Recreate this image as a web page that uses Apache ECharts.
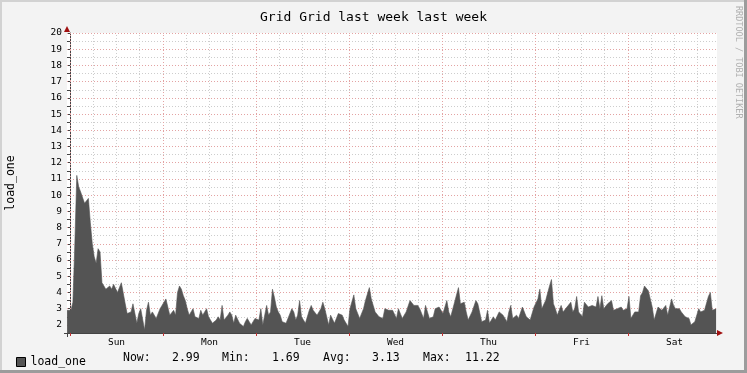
<!DOCTYPE html>
<html><head><meta charset="utf-8">
<script src="https://cdn.jsdelivr.net/npm/echarts@6/dist/echarts.min.js"></script>
<style>html,body{margin:0;padding:0;background:#f3f3f3}#c{width:747px;height:373px}</style>
</head><body><div id="c"></div>
<script>
const titleText = 'Grid Grid last week last week';
const seriesName = 'load_one';
const yAxisName = 'load_one';
const watermark = 'RRDTOOL / TOBI OETIKER';
const dayNames = ['Sun', 'Mon', 'Tue', 'Wed', 'Thu', 'Fri', 'Sat'];
const yTickValues = [2, 3, 4, 5, 6, 7, 8, 9, 10, 11, 12, 13, 14, 15, 16, 17, 18, 19, 20];
const startHour = -0.75;   // hours relative to Sunday 00:00
const stepHours = 0.5;
const loads = [
  2.9, 3.0, 2.9, 3.4, 7.0, 11.22, 10.5, 10.2, 10.3, 9.5,
  9.6, 9.8, 8.3, 7.0, 6.2, 5.8, 6.7, 6.5, 4.6, 4.4,
  4.2, 4.2, 4.4, 4.2, 4.5, 4.5, 4.0, 4.1, 4.6, 4.5,
  3.3, 2.7, 2.7, 2.8, 3.3, 2.7, 2.1, 2.7, 3.0, 3.1,
  1.69, 2.9, 3.4, 2.6, 2.8, 2.6, 2.4, 2.4, 3.0, 3.0,
  3.4, 3.6, 3.7, 2.6, 2.6, 2.9, 2.6, 4.0, 4.4, 4.2,
  3.8, 3.5, 3.0, 2.6, 2.5, 3.0, 2.5, 2.5, 2.4, 2.9,
  2.6, 2.6, 3.0, 2.5, 2.5, 2.1, 2.1, 2.3, 2.5, 2.3,
  3.2, 2.3, 2.3, 2.6, 2.8, 2.6, 2.1, 2.6, 2.6, 2.1,
  2.1, 1.9, 2.2, 2.4, 2.2, 2.0, 2.0, 2.4, 2.3, 2.3,
  3.0, 2.0, 2.0, 3.2, 2.6, 2.8, 4.2, 3.7, 3.1, 2.8,
  2.6, 2.2, 2.1, 2.1, 2.4, 2.5, 3.0, 2.8, 2.3, 2.6,
  3.5, 2.5, 2.4, 2.1, 2.1, 2.9, 3.2, 2.9, 3.0, 2.6,
  2.5, 3.0, 3.4, 3.0, 3.0, 2.0, 2.6, 2.6, 2.1, 2.1,
  2.7, 2.7, 2.6, 2.3, 2.3, 1.9, 3.0, 3.0, 3.85, 3.0,
  3.0, 2.4, 2.4, 3.0, 3.5, 3.9, 4.3, 3.6, 3.2, 2.8,
  2.8, 2.5, 2.4, 2.4, 3.0, 3.0, 2.9, 2.9, 2.9, 2.9,
  2.4, 3.0, 3.0, 2.4, 2.4, 2.8, 2.8, 3.5, 3.5, 3.2,
  3.2, 3.2, 3.0, 3.0, 2.4, 3.2, 3.2, 2.4, 2.4, 2.5,
  3.0, 3.0, 3.1, 3.1, 2.7, 2.7, 3.5, 2.8, 2.5, 2.5,
  3.4, 3.4, 4.3, 3.3, 3.4, 3.4, 2.8, 2.3, 2.3, 2.8,
  2.8, 3.5, 3.3, 3.3, 2.2, 2.3, 2.3, 2.9, 2.1, 2.1,
  2.5, 2.3, 2.3, 2.8, 2.8, 2.6, 2.5, 2.2, 2.8, 3.2,
  2.4, 2.5, 2.6, 2.4, 2.3, 3.1, 3.1, 2.5, 2.5, 2.3,
  2.3, 3.1, 3.1, 3.6, 4.2, 3.0, 3.0, 3.5, 3.5, 4.4,
  4.8, 3.3, 3.0, 2.6, 2.6, 3.2, 2.8, 2.8, 3.1, 3.1,
  3.4, 2.8, 3.0, 3.75, 2.8, 2.8, 2.5, 3.4, 3.4, 3.1,
  3.1, 3.2, 3.2, 3.1, 3.75, 3.0, 3.8, 3.0, 3.0, 3.3,
  3.3, 3.5, 2.9, 2.9, 3.0, 3.0, 3.1, 2.9, 2.9, 3.0,
  3.75, 2.4, 2.4, 2.8, 2.8, 2.8, 3.8, 4.0, 4.4, 4.3,
  4.1, 3.6, 3.1, 2.3, 2.3, 3.1, 3.1, 2.9, 2.9, 3.2,
  2.6, 2.6, 3.6, 3.2, 3.0, 3.0, 3.0, 2.8, 2.8, 2.5,
  2.4, 2.4, 2.0, 2.0, 2.2, 2.2, 3.0, 2.8, 2.8, 2.9,
  2.9, 3.75, 4.0, 2.9, 3.0, 2.99
];
const statLabels = ['Now:', 'Min:', 'Avg:', 'Max:'];
const statValues = ['2.99', '1.69', '3.13', '11.22'];

const MONO = '"DejaVu Sans Mono", "Liberation Mono", monospace';
const GRID_GREY = '#cdcdcd';
const GRID_RED = '#e3a3a3';
const AREA = '#545454';

const seriesData = loads.map((v, i) => [startHour + i * stepHours, v]);
const labelHours = dayNames.map((d, i) => 12 + 24 * i);
const dayStarts = dayNames.map((d, i) => 24 * i);
const gridLines = [];
for (let h = 0; h < 168; h += 6) {
  gridLines.push({ xAxis: h, lineStyle: { color: h % 24 === 0 ? GRID_RED : GRID_GREY, type: [1, 2], width: 1 } });
}
yTickValues.forEach(v => {
  gridLines.push({ yAxis: v, lineStyle: { color: GRID_RED, type: [1, 2], width: 1 } });
});

const statX = [[123, 172], [222, 272], [323, 372], [423, 465]];
const graphics = [
  { type: 'rect', shape: { x: 0, y: 0, width: 747, height: 2 }, style: { fill: '#d2d2d2' }, silent: true },
  { type: 'rect', shape: { x: 0, y: 0, width: 2, height: 373 }, style: { fill: '#d2d2d2' }, silent: true },
  { type: 'rect', shape: { x: 0, y: 370, width: 747, height: 3 }, style: { fill: '#9c9c9c' }, silent: true },
  { type: 'rect', shape: { x: 744, y: 0, width: 3, height: 373 }, style: { fill: '#9c9c9c' }, silent: true },
  { type: 'polygon', shape: { points: [[64, 32], [70, 32], [67, 26]] }, style: { fill: '#a01010' }, silent: true, z: 100 },
  { type: 'polygon', shape: { points: [[717, 330], [717, 336], [723, 333]] }, style: { fill: '#a01010' }, silent: true, z: 100 },
  { type: 'line', shape: { x1: 67.5, y1: 337, x2: 67.5, y2: 333 }, style: { stroke: '#444', lineWidth: 1 }, silent: true },
  { type: 'line', shape: { x1: 64, y1: 333.5, x2: 67, y2: 333.5 }, style: { stroke: '#444', lineWidth: 1 }, silent: true },
  { type: 'text', x: 738, y: 6, rotation: -Math.PI / 2,
    style: { text: watermark, font: '8.5px ' + MONO, fill: '#b0b0b0', textAlign: 'left', textVerticalAlign: 'middle' }, silent: true }
];
statLabels.forEach((lab, k) => {
  graphics.push({ type: 'text', x: statX[k][0], y: 358, style: { text: lab, font: '11.5px ' + MONO, fill: '#000', textVerticalAlign: 'middle' }, silent: true });
  graphics.push({ type: 'text', x: statX[k][1], y: 358, style: { text: statValues[k], font: '11.5px ' + MONO, fill: '#000', textVerticalAlign: 'middle' }, silent: true });
});

const chart = echarts.init(document.getElementById('c'), null, { renderer: 'canvas' });
chart.setOption({
  animation: false,
  backgroundColor: '#f3f3f3',
  title: { text: titleText, left: 'center', top: 6, textStyle: { fontFamily: MONO, fontSize: 13, fontWeight: 'normal', color: '#000' } },
  legend: {
    left: 11, top: 351, icon: 'rect', itemWidth: 9, itemHeight: 9, itemGap: 10,
    data: [seriesName],
    textStyle: { fontFamily: MONO, fontSize: 11.5, color: '#000' },
    itemStyle: { borderColor: '#000', borderWidth: 1 }
  },
  grid: { left: 67, top: 33, right: 30, bottom: 40, show: true, backgroundColor: '#fff', borderWidth: 0,
          containLabel: false, outerBoundsMode: 'none' },
  xAxis: {
    type: 'value', min: -0.774, max: 166.97,
    axisLine: { show: true, lineStyle: { color: '#444', width: 1 } },
    axisTick: { show: true, customValues: dayStarts, length: 3, lineStyle: { color: '#c03030' } },
    splitLine: { show: false },
    axisLabel: {
      customValues: labelHours,
      formatter: v => dayNames[Math.round((v - 12) / 24)] || '',
      fontFamily: MONO, fontSize: 9.5, color: '#000', margin: 5
    }
  },
  yAxis: {
    type: 'value', min: 1.5, max: 20, interval: 0.5,
    name: yAxisName, nameLocation: 'middle', nameGap: 50, nameRotate: 90,
    nameTextStyle: { fontFamily: MONO, fontSize: 11.5, color: '#000' },
    axisLine: { show: true, lineStyle: { color: '#444', width: 1 } },
    axisTick: { show: true, length: 3, lineStyle: { color: '#444' } },
    axisLabel: { formatter: v => Number.isInteger(v) ? String(v) : '', fontFamily: MONO, fontSize: 9.5, color: '#000', margin: 5 },
    splitLine: { show: true, lineStyle: { color: GRID_GREY, type: [1, 2], width: 1 } }
  },
  series: [
    {
      name: '_grid', type: 'line', data: [], z: 1, silent: true,
      markLine: { z: 1, silent: true, symbol: ['none', 'none'], label: { show: false }, animation: false, data: gridLines }
    },
    {
      name: seriesName, type: 'line', data: seriesData, z: 3,
      showSymbol: false, smooth: false,
      lineStyle: { width: 0.6, color: AREA },
      itemStyle: { color: AREA },
      areaStyle: { color: AREA, opacity: 1 }
    }
  ],
  graphic: graphics
});
</script></body></html>
